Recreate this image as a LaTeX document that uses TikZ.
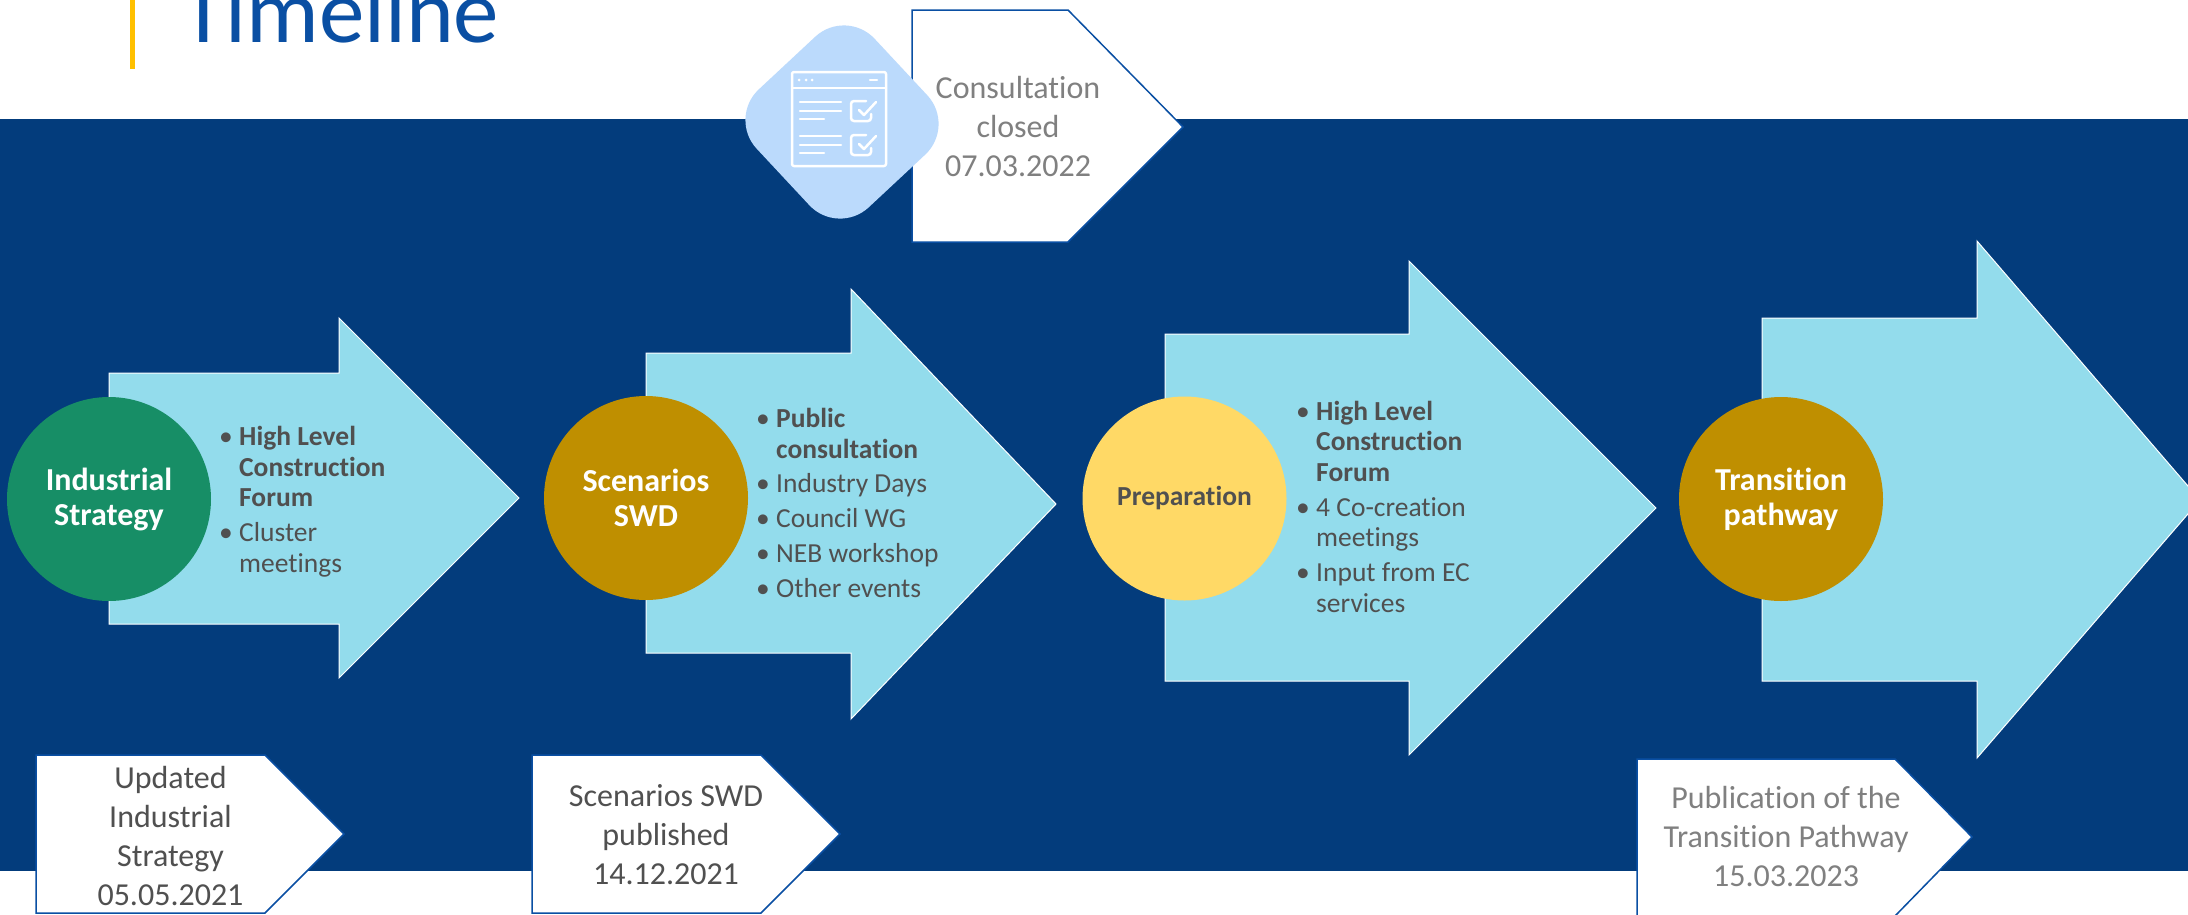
\documentclass[tikz,border=0pt]{standalone}
\usepackage{fontspec}
\setmainfont{Carlito}[Ligatures=NoCommon]
\definecolor{navy}{HTML}{033C7C}
\definecolor{sky}{HTML}{93DCEC}
\definecolor{titleblue}{HTML}{0A4FA3}
\definecolor{amber}{HTML}{FFC000}
\definecolor{forest}{HTML}{178E66}
\definecolor{gold}{HTML}{BF8F00}
\definecolor{sun}{HTML}{FFD966}
\definecolor{tile}{HTML}{BBDAFC}
\definecolor{darktext}{HTML}{505050}
\newcommand{\timeitem}[1]{\par\noindent\hangindent=20pt\hangafter=1\hbox to 20pt{\textbullet\hfil}#1\par}
\tikzset{
  stage/.style={circle,minimum size=204pt,inner sep=0pt,align=center,text=white,
    font=\fontsize{32}{35}\selectfont\bfseries},
  datebox/.style={draw=titleblue,line width=1.5pt,fill=white},
  datetext/.style={inner sep=0pt,align=center,text=darktext,font=\fontsize{32}{39}\selectfont},
  itemlist/.style={anchor=west,inner sep=0pt,text width=235pt,align=flush left,text=darktext,
    font=\fontsize{27.5}{30.7}\selectfont,execute at begin node={\setlength{\parskip}{4pt}}},
  icon/.style={draw=white,line width=2.5pt,line cap=round,line join=round}
}
\begin{document}
\begin{tikzpicture}[x=1pt,y=-1pt]
  \clip (0,0) rectangle (2188,914);
  \fill[white] (0,0) rectangle (2188,914);
  \fill[navy] (0,119) rectangle (2188,871);
  % title
  \fill[amber] (130,0) rectangle (135,69);
  \node[anchor=base west,inner sep=0pt,text=titleblue,font=\fontsize{91}{92}\selectfont] (title) at (181,42) {Timeline};
  % arrows
  \foreach \xa/\xb/\xc/\ya/\yb/\yc/\yd/\ym in {
    109/339/519/373/624/318/678/498,
    646/851/1056/353/653/289/719/504,
    1165/1409/1656/334/681/261/755/508,
    1762/1977/2200/318/681/241/758/500}{
    \draw[white,fill=sky,line width=1pt] (\xa,\ya) -- (\xb,\ya) -- (\xb,\yc) -- (\xc,\ym)
      -- (\xb,\yd) -- (\xb,\yb) -- (\xa,\yb) -- cycle;
  }
  % stages
  \node[stage,fill=forest] (industry) at (109,499) {Industrial\\Strategy};
  \node[stage,fill=gold] (scenarios) at (646,498) {Scenarios\\SWD};
  \node[stage,fill=sun,text=darktext,font=\fontsize{27.5}{30}\selectfont\bfseries] (preparation) at (1184.5,498.5) {Preparation};
  \node[stage,fill=gold] (pathway) at (1781,499) {Transition\\pathway};
  % lists
  \node[itemlist] (industrylist) at (219,494) {%
    \timeitem{\textbf{High Level\newline Construction\newline Forum}}
    \timeitem{Cluster\newline meetings}};
  \node[itemlist] (scenarioslist) at (756,495) {%
    \timeitem{\textbf{Public\newline consultation}}
    \timeitem{Industry Days}
    \timeitem{Council WG}
    \timeitem{NEB workshop}
    \timeitem{Other events}};
  \node[itemlist] (preparationlist) at (1296,499) {%
    \timeitem{\textbf{High Level\newline Construction\newline Forum}}
    \timeitem{4 Co-creation\newline meetings}
    \timeitem{Input from EC\newline services}};
  % date boxes
  \draw[datebox] (912,10) -- (1068,10) -- (1183,127) -- (1068,242) -- (912,242) -- cycle;
  \draw[datebox] (36,755) -- (265,755) -- (344,834) -- (265,913) -- (36,913) -- cycle;
  \draw[datebox] (532,755) -- (761,755) -- (840,834) -- (761,913) -- (532,913) -- cycle;
  \draw[datebox] (1637,759) -- (1895,759) -- (1972,837) -- (1895,916) -- (1637,916) -- cycle;
  \node[datetext,text=gray] (closed) at (1018,127) {Consultation\\closed\\07.03.2022};
  \node[datetext] (updated) at (170.5,836) {Updated\\Industrial\\Strategy\\05.05.2021};
  \node[datetext] (published) at (666,835) {Scenarios SWD\\published\\14.12.2021};
  \node[datetext,text=gray] (publication) at (1786,837) {Publication of the\\Transition Pathway\\15.03.2023};
  % consultation icon
  \fill[tile,rounded corners=42pt,rotate around={-2:(842,122)}] (842,8) -- (956,122) -- (842,236) -- (728,122) -- cycle;
  \draw[icon,rounded corners=2pt] (792,72) rectangle (886,166);
  \draw[icon] (792,88) -- (886,88) (870,80) -- (877,80);
  \foreach \x in {799,806,812}{
    \fill[white] (\x,80) circle (1.5pt);
  }
  \foreach \dy in {0,34}{
    \draw[icon] (800,102+\dy) -- (841,102+\dy) (800,111+\dy) -- (841,111+\dy) (800,119+\dy) -- (824,119+\dy);
    \draw[icon,rounded corners=3pt] (866,101+\dy) -- (851,101+\dy) -- (851,121+\dy) -- (871,121+\dy) -- (871,114+\dy);
    \draw[icon] (859,110+\dy) -- (864,115+\dy) -- (876,102+\dy);
  }
\end{tikzpicture}
\end{document}
